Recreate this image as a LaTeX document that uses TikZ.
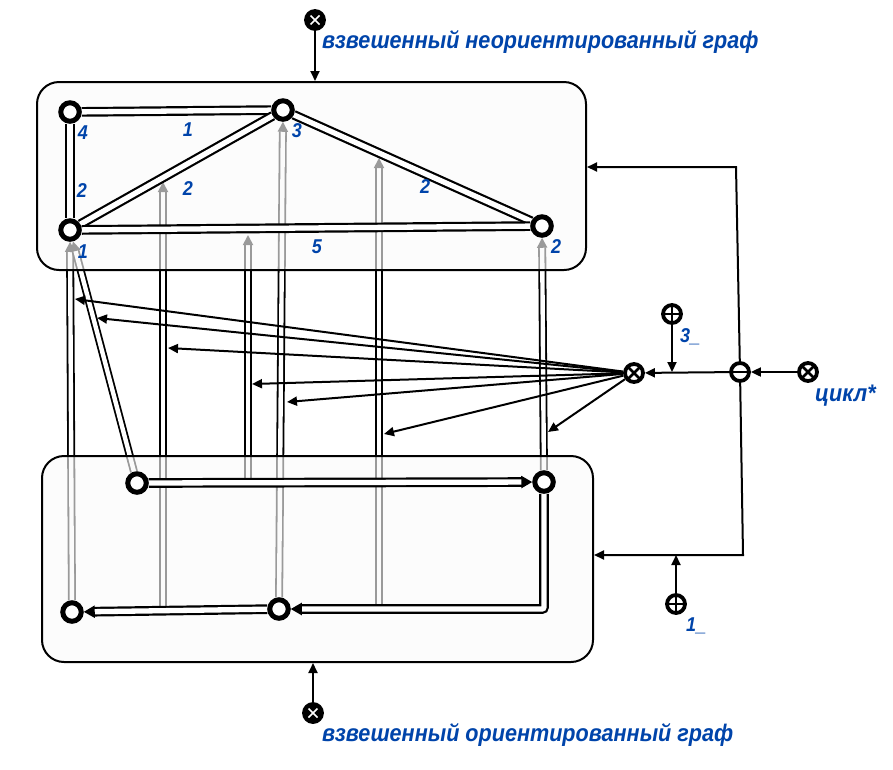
\documentclass[tikz,border=0pt]{standalone}
\usepackage{xcolor}
\usepackage{fontspec}
\setmainfont{Liberation Sans}
\newfontfamily\capfont[FakeStretch=0.9]{Liberation Sans}
\usepackage{tikz}
\usetikzlibrary{arrows.meta}
\definecolor{lblue}{RGB}{0,68,170}
\pgfdeclarelayer{back}
\pgfdeclarelayer{boxes}
\pgfdeclarelayer{edges}
\pgfsetlayers{back,boxes,edges,main}
\tikzset{
	vtx/.style={circle,draw,line width=5pt,fill=white,minimum size=18.5pt,inner sep=0pt},
	op/.style={circle,draw,line width=3.8pt,fill=white,minimum size=18pt,inner sep=0pt},
	otimes/.style={op,path picture={\draw[line width=2.6pt] (path picture bounding box.north west) -- (path picture bounding box.south east) (path picture bounding box.north east) -- (path picture bounding box.south west);}},
	oplus/.style={op,path picture={\draw[line width=2.6pt] (path picture bounding box.north) -- (path picture bounding box.south) (path picture bounding box.west) -- (path picture bounding box.east);}},
	ominus/.style={op,path picture={\draw[line width=2.6pt] (path picture bounding box.west) -- (path picture bounding box.east);}},
	oin/.style={op,fill=black,path picture={\draw[white,line width=1.6pt] ([shift={(-4.5,-4.5)}]path picture bounding box.center) -- ([shift={(4.5,4.5)}]path picture bounding box.center) ([shift={(-4.5,4.5)}]path picture bounding box.center) -- ([shift={(4.5,-4.5)}]path picture bounding box.center);}},
	gbox/.style={draw,line width=2pt,rounded corners=22pt,fill=gray!4,fill opacity=0.62,inner sep=0pt},
	uedge/.style={draw,line width=2.2pt,double=white,double distance=5.3pt},
	dedge/.style={uedge,-{Triangle[length=11pt,width=12pt]}},
	mapline/.style={line width=1.8pt,double=white,double distance=4.4pt,-{Triangle[length=10pt,width=10pt]}},
	arr/.style={line width=2pt,-{Triangle[length=10pt,width=9pt]}},
	lbl/.style={text=lblue,font=\capfont\bfseries\itshape\fontsize{20}{20}\selectfont,inner sep=0pt},
	capt/.style={text=lblue,font=\capfont\bfseries\itshape\fontsize{24}{24}\selectfont,inner sep=0pt,anchor=base west},
}
\begin{document}
\begin{tikzpicture}[x=1pt,y=-1pt]
	\useasboundingbox (0,0) rectangle (893,769);
	% undirected graph, top
	\node[vtx] (v4) at (70,112) {};
	\node[vtx] (v3) at (283,110) {};
	\node[vtx] (v1) at (70,230) {};
	\node[vtx] (v2) at (542,226) {};
	% directed graph, bottom
	\node[vtx] (b1) at (137,483) {};
	\node[vtx] (b2) at (544,482) {};
	\node[vtx] (b3) at (72,612) {};
	\node[vtx] (b4) at (279,609) {};
	% operators
	\node[oin] (gin) at (315,20) {};
	\node[oin] (gout) at (313,713) {};
	\node[otimes] (mul) at (634,373) {};
	\node[ominus] (mi) at (740,372) {};
	\node[otimes] (ci) at (808,372) {};
	\node[oplus] (pl3) at (672,314) {};
	\node[oplus] (pl1) at (676,604) {};
	% weights and vertex numbers
	\node[lbl] (n4) at (83,133) {4};
	\node[lbl] (n3) at (297,131) {3};
	\node[lbl] (n1) at (83,252) {1};
	\node[lbl] (n2) at (556,247) {2};
	\node[lbl] (w43) at (188,130) {1};
	\node[lbl] (w41) at (82,191) {2};
	\node[lbl] (w13) at (188,189) {2};
	\node[lbl] (w32) at (425,187) {2};
	\node[lbl] (w12) at (317,247) {5};
	\node[lbl,anchor=base west] (k3) at (680,342) {3\_};
	\node[lbl,anchor=base west] (k1) at (686,631) {1\_};
	\node[capt] (cap1) at (322,48) {взвешенный неориентированный граф};
	\node[capt] (cap2) at (322,741) {взвешенный ориентированный граф};
	\node[capt] (capc) at (815,401) {цикл*};
	% free ends
	\coordinate (m3a) at (163,609);
	\coordinate (m3b) at (163,182);
	\coordinate (m4a) at (248,483);
	\coordinate (m4b) at (248,235);
	\coordinate (m6a) at (379,608);
	\coordinate (m6b) at (379,158);
	\coordinate (c1) at (736,167);% corner to the top box
	\coordinate (c2) at (743,555);% corner to the bottom box
	\coordinate (t1) at (75,299);
	\coordinate (t2) at (97,318);
	\coordinate (t3) at (168,348);
	\coordinate (t4) at (252,384);
	\coordinate (t5) at (287,402);
	\coordinate (t6) at (384,434);
	\coordinate (t7) at (548,432);
	\begin{pgfonlayer}{back}
		\draw[mapline] (b3) -- (v1);
		\draw[mapline] (b1) -- (v1);
		\draw[mapline] (m3a) -- (m3b);
		\draw[mapline] (m4a) -- (m4b);
		\draw[mapline] (b4) -- (v3);
		\draw[mapline] (m6a) -- (m6b);
		\draw[mapline] (b2) -- (v2);
	\end{pgfonlayer}
	\begin{pgfonlayer}{boxes}
		\node[gbox,minimum width=549pt,minimum height=188pt] (G1) at (311.5,176) {};
		\node[gbox,minimum width=551pt,minimum height=206pt] (G2) at (317.5,559) {};
	\end{pgfonlayer}
	\begin{pgfonlayer}{edges}
		\draw[uedge] (v4) -- (v3);
		\draw[uedge] (v4) -- (v1);
		\draw[uedge] (v1) -- (v3);
		\draw[uedge] (v3) -- (v2);
		\draw[uedge] (v1) -- (v2);
		\draw[dedge] (b1) -- (b2);
		\draw[dedge,rounded corners=2pt] (b2) |- (b4);
		\draw[dedge] (b4) -- (b3);
		\foreach \t in {t1,t2,t3,t4,t5,t6,t7}
			\draw[arr] (mul) -- (\t);
		\draw[arr] (ci) -- (mi);
		\draw[arr] (mi) -- (mul);
		\draw[arr] (pl3) -- (pl3 |- mi);
		\draw[arr] (pl1) -- (pl1 |- c2);
		\draw[arr] (mi) -- (c1) -- (c1 -| G1.east);
		\draw[arr] (mi) -- (c2) -- (c2 -| G2.east);
		\draw[arr] (gin) -- (gin |- G1.north);
		\draw[arr] (gout) -- (gout |- G2.south);
	\end{pgfonlayer}
\end{tikzpicture}
\end{document}
